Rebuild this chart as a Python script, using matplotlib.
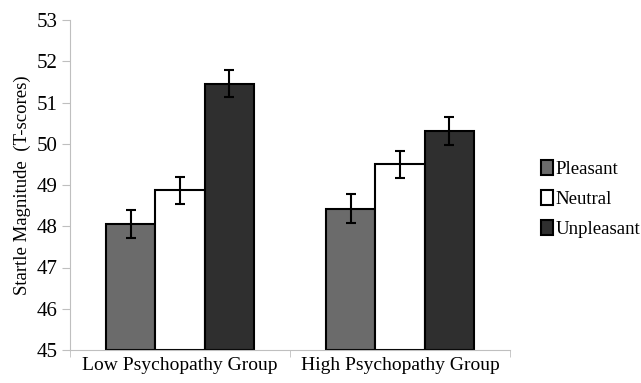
import matplotlib
matplotlib.use("Agg")
import matplotlib.pyplot as plt
import numpy as np

plt.rcParams['font.family'] = ['Liberation Serif', 'DejaVu Serif']

groups = ['Low Psychopathy Group', 'High Psychopathy Group']
conditions = ['Pleasant', 'Neutral', 'Unpleasant']
pleasant = [48.06, 48.43]
neutral = [48.87, 49.50]
unpleasant = [51.46, 50.31]
pleasant_err = [0.34, 0.34]
neutral_err = [0.33, 0.33]
unpleasant_err = [0.33, 0.34]
colors = ['#6b6b6b', '#ffffff', '#2f2f2f']

fig = plt.figure(figsize=(6.41, 3.83), dpi=100)
ax = fig.add_axes([70/641, 1-350/383, 440/641, 330/383])

x = np.arange(len(groups))
w = 0.223
series = [pleasant, neutral, unpleasant]
errs = [pleasant_err, neutral_err, unpleasant_err]
for i, (vals, e) in enumerate(zip(series, errs)):
    ax.bar(x + (i - 1) * w, np.array(vals) - 45, w, bottom=45, color=colors[i],
           edgecolor='black', linewidth=1.5, label=conditions[i],
           yerr=e, error_kw=dict(ecolor='black', elinewidth=1.5, capsize=3.5, capthick=1.5))

ax.set_xlim(-0.5, 1.5)
ax.set_ylim(45, 53)
ax.set_yticks(range(45, 54))
ax.set_xticks(x)
ax.set_xticklabels(groups, fontsize=14)
ax.set_xticks([-0.5, 0.5, 1.5], minor=True)
ax.tick_params(axis='x', which='major', length=0, pad=5)
ax.tick_params(axis='x', which='minor', length=5, color='#bfbfbf')
ax.tick_params(axis='y', length=6, color='#bfbfbf', labelsize=15, pad=3)
for s in ['top', 'right']:
    ax.spines[s].set_visible(False)
for s in ['left', 'bottom']:
    ax.spines[s].set_color('#bfbfbf')
ax.set_ylabel('Startle Magnitude  (T-scores)', fontsize=13.5, labelpad=4)

fig.legend(loc='upper left', bbox_to_anchor=(532/641, 1-151/383), frameon=False,
           fontsize=13.5, handlelength=0.6, handleheight=0.85, handletextpad=0.15,
           labelspacing=0.62, borderpad=0)

fig.savefig('out.png', dpi=100)
